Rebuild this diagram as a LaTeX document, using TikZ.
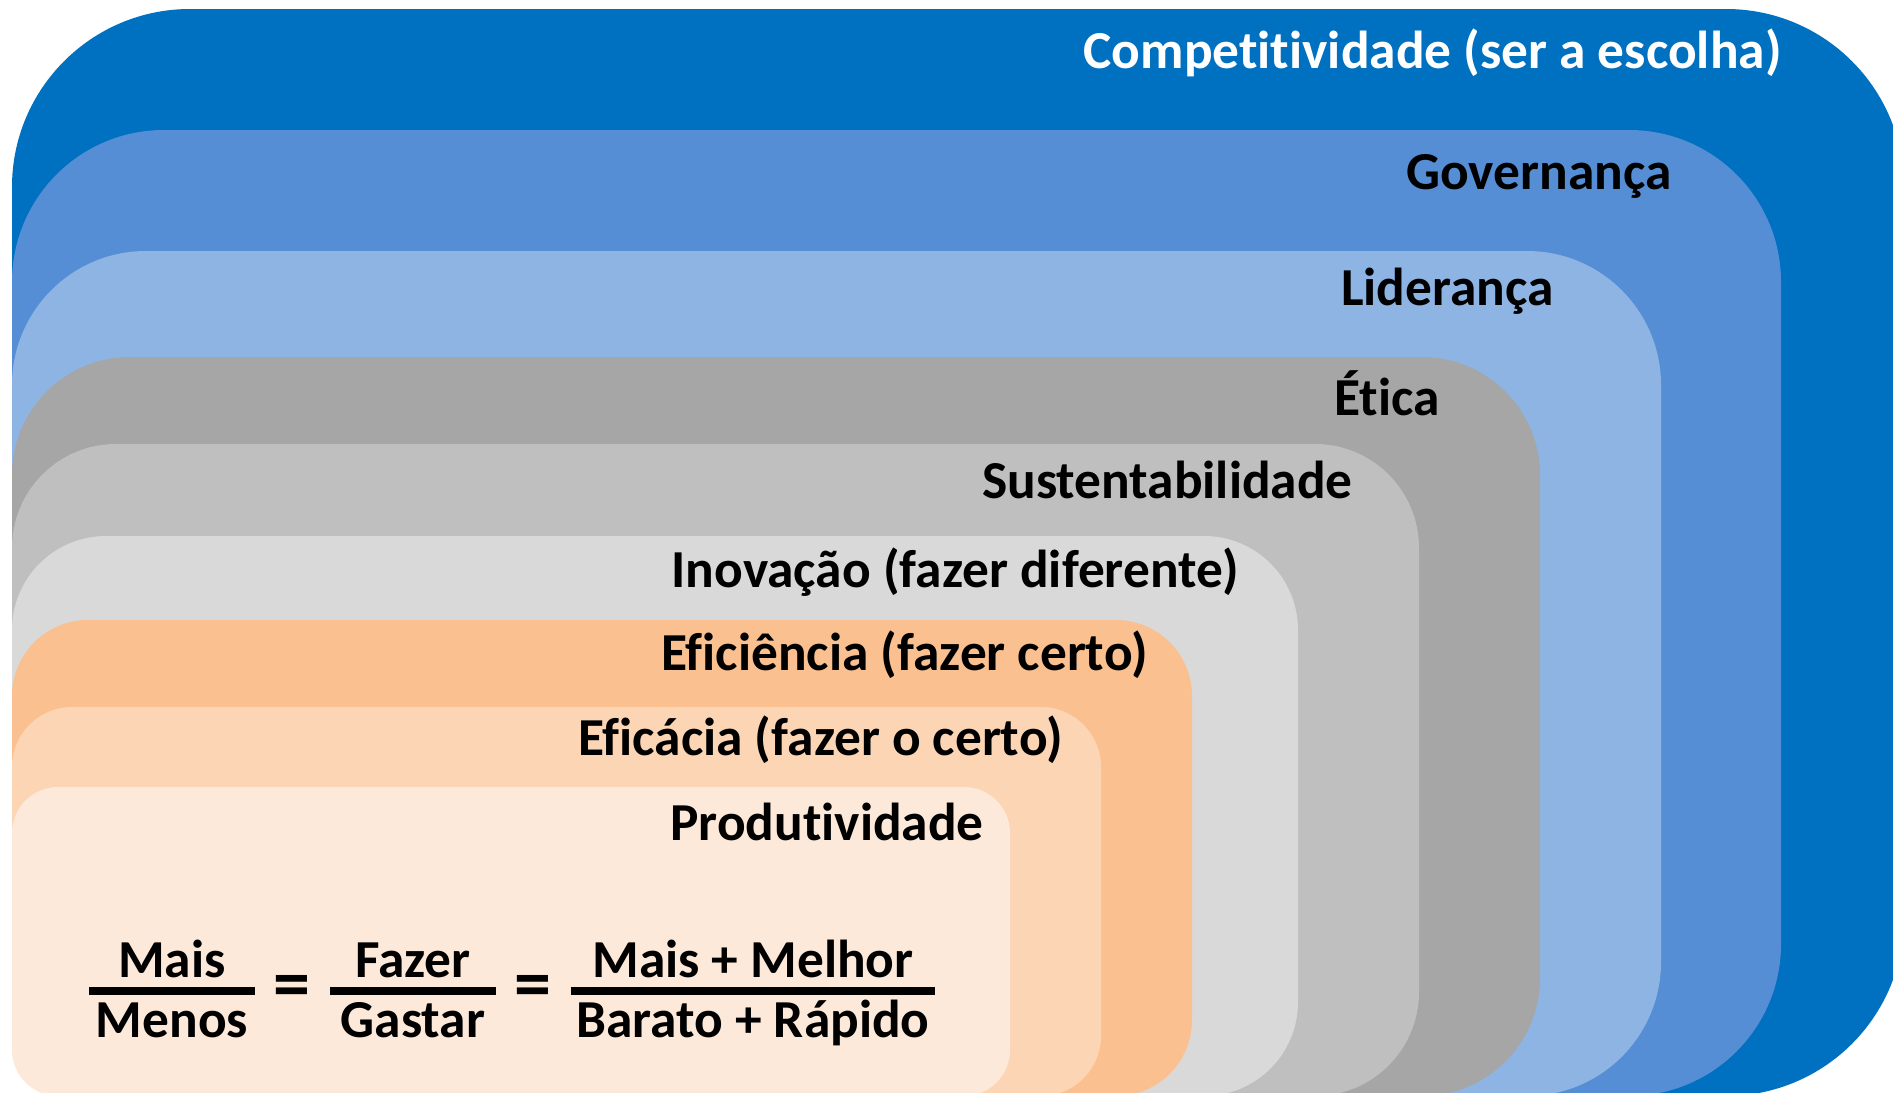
\documentclass[tikz,border=0pt]{standalone}
\usepackage{fontspec}
\setmainfont{Carlito}[RawFeature={-liga;-clig;-calt;-dlig}]
\usepackage{tikz}

\definecolor{azulEscuro}{HTML}{0070C0}
\definecolor{azulMedio}{HTML}{558ED5}
\definecolor{azulClaro}{HTML}{8EB4E3}
\definecolor{cinzaEscuro}{HTML}{A6A6A6}
\definecolor{cinzaMedio}{HTML}{BFBFBF}
\definecolor{cinzaClaro}{HTML}{D9D9D9}
\definecolor{laranjaEscuro}{HTML}{FAC090}
\definecolor{laranjaMedio}{HTML}{FCD5B5}
\definecolor{laranjaClaro}{HTML}{FDE9D9}

\begin{document}
\begin{tikzpicture}[x=0.5pt,y=-0.5pt,
    rotulo/.style={anchor=base east,inner sep=0pt,font=\fontsize{26.7}{30}\selectfont\bfseries},
    termo/.style={anchor=base,inner sep=0pt,font=\fontsize{26.7}{30}\selectfont\bfseries},
    sinal/.style={anchor=center,inner sep=0pt,font=\fontsize{37}{40}\selectfont\bfseries},
    barra/.style={line width=4pt}]
    \useasboundingbox (0,0) rectangle (1893,1092);
    \clip (0,0) rectangle (1893,1092);

    % Camadas, da maior para a menor (topo, lado direito, raio em pt, cor)
    \foreach \topo/\dir/\raio/\cor in {
        9/1904/89/azulEscuro,
        130/1781/76/azulMedio,
        251/1661/67/azulClaro,
        357/1540/59/cinzaEscuro,
        444/1419/52/cinzaMedio,
        536/1298/47/cinzaClaro,
        620/1192/38/laranjaEscuro,
        707/1101/30/laranjaMedio,
        787/1010/23/laranjaClaro} {
        \fill[\cor, rounded corners=\raio pt] (12,\topo) rectangle (\dir,1096);
    }

    % Nomes das camadas
    \node[rotulo,white] (comp) at (1782,68) {Competitividade (ser a escolha)};
    \node[rotulo] (gov) at (1672,189) {Governança};
    \node[rotulo] (lid) at (1554,305) {Liderança};
    \node[rotulo] (etica) at (1440,415) {Ética};
    \node[rotulo] (sust) at (1353,498) {Sustentabilidade};
    \node[rotulo] (inov) at (1240,587) {Inovação (fazer diferente)};
    \node[rotulo] (efic) at (1149,670) {Eficiência (fazer certo)};
    \node[rotulo] (eficacia) at (1064,755) {Eficácia (fazer o certo)};
    \node[rotulo] (prod) at (984,840) {Produtividade};

    % Formula
    \node[termo] (mais) at (172,977) {Mais};
    \node[termo] (menos) at (172,1037) {Menos};
    \draw[barra] (89,991) -- (255,991);
    \node[sinal] (igual1) at (292,992) {=};
    \node[termo] (fazer) at (413,977) {Fazer};
    \node[termo] (gastar) at (413,1037) {Gastar};
    \draw[barra] (330,991) -- (496,991);
    \node[sinal] (igual2) at (533,992) {=};
    \node[termo] (maismelhor) at (753,977) {Mais + Melhor};
    \node[termo] (baratorapido) at (753,1037) {Barato + Rápido};
    \draw[barra] (571,991) -- (935,991);
\end{tikzpicture}
\end{document}
